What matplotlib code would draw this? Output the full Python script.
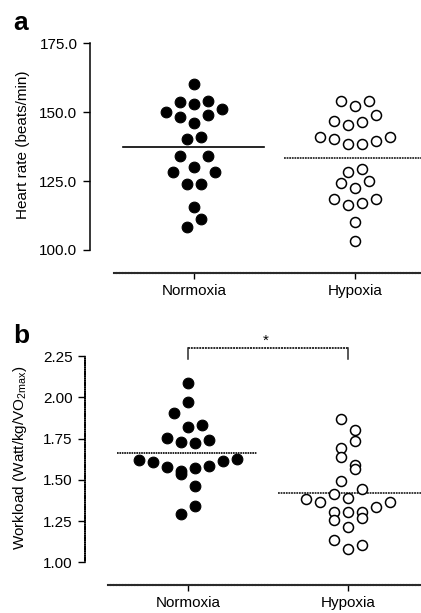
import numpy as np
import matplotlib
matplotlib.use('Agg')
import matplotlib.pyplot as plt

plt.rcParams['font.family'] = ['Liberation Sans', 'DejaVu Sans']
plt.rcParams['mathtext.default'] = 'regular'

# Data
groups = ['Normoxia', 'Hypoxia']

# a: heart rate (beats/min)
hr_normoxia = [160.2, 153.8, 153.1, 154.0, 150.1, 148.2, 149.1, 151.0, 146.2,
               140.2, 141.0, 134.1, 134.1, 130.0, 128.1, 128.1, 124.0, 124.0,
               115.4, 111.1, 108.2]
hr_normoxia_slot = [0, -2, 0, 2, -4, -2, 2, 4, 0, -1, 1, -2, 2, 0, -3, 3, -1, 1,
                    0, 1, -1]
hr_hypoxia = [154.1, 152.3, 154.1, 146.9, 145.2, 146.3, 149.1, 141.1, 140.2,
              138.5, 138.5, 139.4, 141.1, 128.1, 129.2, 124.2, 122.4, 125.0,
              118.4, 116.3, 117.2, 118.4, 110.3, 103.3]
hr_hypoxia_slot = [-2, 0, 2, -3, -1, 1, 3, -5, -3, -1, 1, 3, 5, -1, 1, -2, 0, 2,
                   -3, -1, 1, 3, 0, 0]

# b: workload (Watt/kg/VO2max)
wl_normoxia = [2.089, 1.974, 1.905, 1.822, 1.830, 1.755, 1.729, 1.723, 1.741,
               1.620, 1.608, 1.580, 1.555, 1.535, 1.570, 1.584, 1.616, 1.624,
               1.463, 1.341, 1.293]
wl_normoxia_slot = [0, 0, -2, 0, 2, -3, -1, 1, 3, -7, -5, -3, -1, -1, 1, 3, 5, 7,
                    1, 1, -1]
wl_hypoxia = [1.867, 1.802, 1.733, 1.695, 1.636, 1.588, 1.567, 1.495, 1.444,
              1.414, 1.390, 1.384, 1.364, 1.333, 1.364, 1.303, 1.303, 1.303,
              1.256, 1.267, 1.214, 1.135, 1.105, 1.081]
wl_hypoxia_slot = [-1, 1, 1, -1, -1, 1, 1, -1, 2, -2, 0, -6, -4, 4, 6, -2, 0, 2,
                   -2, 2, 0, -2, 2, 0]

SLOT = 0.0437
DOT = (0, (1.0, 0.45))
DOT_COLOR = '#2a2a2a'


def draw_panel(ax, normoxia, n_slot, hypoxia, h_slot, lims, yticks, fmt,
               left_style, mean_styles):
    ax.set_xlim(*lims[0])
    ax.set_ylim(*lims[1])
    xn = 0 + np.array(n_slot) * SLOT
    xh = 1 + np.array(h_slot) * SLOT
    ax.plot(xn, normoxia, 'o', ms=7.7, mfc='black', mec='black', mew=0.8,
            clip_on=False, zorder=3)
    ax.plot(xh, hypoxia, 'o', ms=7.2, mfc='white', mec='black', mew=1.1,
            clip_on=False, zorder=3)
    ax.plot([-0.44, 0.435], [np.mean(normoxia)] * 2, color='black', lw=1.2,
            linestyle=mean_styles[0])
    ax.plot([0.56, 1.6], [np.mean(hypoxia)] * 2, color=DOT_COLOR, lw=1.3,
            linestyle=mean_styles[1])

    for s in ['top', 'right']:
        ax.spines[s].set_visible(False)
    ax.spines['left'].set_bounds(yticks[0], yticks[-1])
    ax.spines['left'].set_linestyle(left_style)
    ax.spines['left'].set_linewidth(1.1)
    ax.spines['bottom'].set_bounds(-0.5, lims[0][1])
    ax.spines['bottom'].set_linestyle(DOT)
    ax.spines['bottom'].set_linewidth(1.5)
    ax.spines['bottom'].set_color(DOT_COLOR)

    ax.set_yticks(yticks)
    ax.set_yticklabels([fmt.format(v) for v in yticks])
    ax.set_xticks([0, 1])
    ax.set_xticklabels(groups)
    ax.tick_params(axis='y', length=5, width=1, pad=4, labelsize=11)
    ax.tick_params(axis='x', length=4.5, width=1, pad=3.5, labelsize=11)


fig = plt.figure(figsize=(4.21, 6.13), dpi=100)

# panel a
ax1 = fig.add_axes([90 / 421, 1 - 273.3 / 613, 331 / 421, 233.3 / 613])
draw_panel(ax1, hr_normoxia, hr_normoxia_slot, hr_hypoxia, hr_hypoxia_slot,
           ((-0.646, 1.41), (91.5, 176.2)), [100, 125, 150, 175], '{:.1f}',
           'solid', ('solid', DOT))
ax1.set_ylabel('Heart rate (beats/min)', fontsize=11)
ax1.yaxis.set_label_coords(-0.181, 0.55)

# panel b
ax2 = fig.add_axes([85 / 421, 1 - 585 / 613, 336 / 421, 255 / 613])
draw_panel(ax2, wl_normoxia, wl_normoxia_slot, wl_hypoxia, wl_hypoxia_slot,
           ((-0.641, 1.455), (0.862, 2.408)), [1.00, 1.25, 1.50, 1.75, 2.00, 2.25],
           '{:.2f}', DOT, (DOT, DOT))
ax2.set_ylabel('Workload (Watt/kg/VO$_{2max}$)', fontsize=11)
ax2.yaxis.set_label_coords(-0.167, 0.498)

# significance bracket
ax2.plot([0, 1], [2.297, 2.297], color=DOT_COLOR, lw=1.4, linestyle=DOT,
         clip_on=False)
ax2.plot([0, 0], [2.297, 2.230], color=DOT_COLOR, lw=1.1, clip_on=False)
ax2.plot([1, 1], [2.297, 2.230], color=DOT_COLOR, lw=1.1, clip_on=False)
ax2.text(0.485, 2.317, '*', ha='center', va='baseline', fontsize=11)

fig.text(13 / 421, 1 - 30 / 613, 'a', fontsize=19, fontweight='bold',
         ha='left', va='baseline')
fig.text(13 / 421, 1 - 343 / 613, 'b', fontsize=19, fontweight='bold',
         ha='left', va='baseline')

fig.savefig('out.png', dpi=100)
